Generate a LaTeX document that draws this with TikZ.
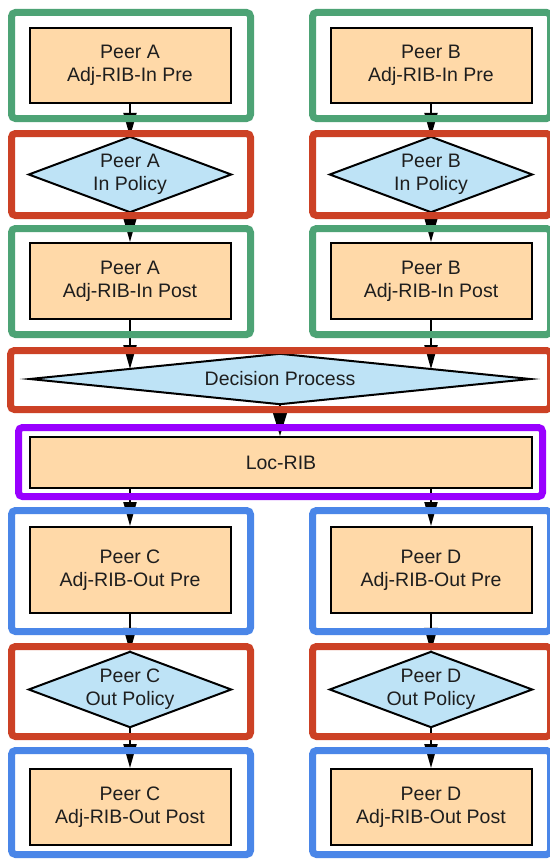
\documentclass[tikz,border=0pt]{standalone}
\usepackage{fontspec}
\setmainfont{Liberation Sans}
\usetikzlibrary{arrows.meta}
\pgfdeclarelayer{bglayer}
\pgfdeclarelayer{fglayer}
\pgfsetlayers{bglayer,main,fglayer}
\definecolor{frgreen}{HTML}{4DA375}
\definecolor{frred}{HTML}{CC4125}
\definecolor{frblue}{HTML}{4A86E8}
\definecolor{frpurple}{HTML}{9900FF}
\definecolor{ribfill}{HTML}{FFD9A8}
\definecolor{polfill}{HTML}{BEE3F6}
\definecolor{txt}{HTML}{1E1E1E}
\tikzset{
  lbl/.style={align=center, text=txt, inner sep=0pt, font=\fontsize{19.5}{23}\selectfont},
  ribbox/.style={lbl, draw=black, line width=2pt, fill=ribfill},
  poltext/.style={lbl},
  polshape/.style={draw=black, line width=2pt, fill=polfill, line join=miter},
  frame/.style={line width=7pt, rounded corners=4pt},
  greenframe/.style={frame, draw=frgreen},
  redframe/.style={frame, draw=frred},
  blueframe/.style={frame, draw=frblue},
  purpleframe/.style={frame, draw=frpurple},
  conn/.style={line width=2pt, draw=black, -{Triangle[length=24pt,width=13pt]}},
  bigconn/.style={line width=2pt, draw=black, -{Triangle[length=30pt,width=18pt]}},
}
\begin{document}
\begin{tikzpicture}[x=1pt,y=-1pt]
\useasboundingbox (0,0) rectangle (549,859);
\clip (0,0) rectangle (549,859);

% boxes
\node[ribbox, minimum width=201pt, minimum height=75pt] (aPre) at (130,65.5) {Peer A\\Adj-RIB-In Pre};
\node[ribbox, minimum width=201pt, minimum height=75pt] (bPre) at (431,65.5) {Peer B\\Adj-RIB-In Pre};
\node[poltext, minimum width=202pt, minimum height=75pt] (aPol) at (130,174.5) {Peer A\\In Policy};
\node[poltext, minimum width=202pt, minimum height=75pt] (bPol) at (431,174.5) {Peer B\\In Policy};
\node[ribbox, minimum width=201pt, minimum height=76pt] (aPost) at (130,281) {Peer A\\Adj-RIB-In Post};
\node[ribbox, minimum width=201pt, minimum height=76pt] (bPost) at (431,281) {Peer B\\Adj-RIB-In Post};
\node[poltext, minimum width=500pt, minimum height=50pt] (dp) at (280,379) {Decision Process};
\node[ribbox, minimum width=502pt, minimum height=51pt] (loc) at (281,462.5) {Loc-RIB};
\node[ribbox, minimum width=201pt, minimum height=86pt] (cPre) at (130,570) {Peer C\\Adj-RIB-Out Pre};
\node[ribbox, minimum width=201pt, minimum height=86pt] (dPre) at (431,570) {Peer D\\Adj-RIB-Out Pre};
\node[poltext, minimum width=202pt, minimum height=75pt] (cPol) at (130,689.5) {Peer C\\Out Policy};
\node[poltext, minimum width=202pt, minimum height=75pt] (dPol) at (431,689.5) {Peer D\\Out Policy};
\node[ribbox, minimum width=201pt, minimum height=76pt] (cPost) at (130,807) {Peer C\\Adj-RIB-Out Post};
\node[ribbox, minimum width=201pt, minimum height=76pt] (dPost) at (431,807) {Peer D\\Adj-RIB-Out Post};

% white page and diamond shapes behind the policy texts
\begin{pgfonlayer}{bglayer}
\fill[white] (0,0) rectangle (549,859);
\foreach \n in {aPol,bPol,dp,cPol,dPol}{
  \draw[polshape] (\n.west) -- (\n.north) -- (\n.east) -- (\n.south) -- cycle;
}
\end{pgfonlayer}

% free ends on the decision diamond's upper edges
\coordinate (dpL) at (130,369);
\coordinate (dpR) at (431,369.1);

% connectors
\draw[conn] (aPre.south) -- (aPol.north);
\draw[conn] (bPre.south) -- (bPol.north);
\draw[conn] (aPol.south) -- (aPost.north);
\draw[conn] (bPol.south) -- (bPost.north);
\draw[conn] (aPost.south) -- (dpL);
\draw[conn] (bPost.south) -- (dpR);
\draw[bigconn] (dp.south) -- (dp.south |- loc.north);
\draw[conn] (loc.south -| cPre.north) -- (cPre.north);
\draw[conn] (loc.south -| dPre.north) -- (dPre.north);
\draw[conn] (cPre.south) -- (cPol.north);
\draw[conn] (dPre.south) -- (dPol.north);
\draw[conn] (cPol.south) -- (cPost.north);
\draw[conn] (dPol.south) -- (dPost.north);

% coloured frames on top
\begin{pgfonlayer}{fglayer}
\draw[greenframe] (11.5,12.5) rectangle (250.5,118.5);
\draw[greenframe] (312.5,12.5) rectangle (550.5,118.5);
\draw[redframe] (11.5,133.5) rectangle (250.5,215.5);
\draw[redframe] (312.5,133.5) rectangle (550.5,215.5);
\draw[greenframe] (11.5,228.5) rectangle (250.5,334.5);
\draw[greenframe] (312.5,228.5) rectangle (550.5,334.5);
\draw[redframe] (10.5,350.5) rectangle (550.5,409.5);
\draw[purpleframe] (18.5,427.5) rectangle (542.5,496.5);
\draw[blueframe] (11.5,510.5) rectangle (250.5,631.5);
\draw[blueframe] (312.5,510.5) rectangle (550.5,631.5);
\draw[redframe] (11.5,646.5) rectangle (250.5,736.5);
\draw[redframe] (312.5,646.5) rectangle (550.5,736.5);
\draw[blueframe] (11.5,750.5) rectangle (250.5,854.5);
\draw[blueframe] (312.5,750.5) rectangle (550.5,854.5);
\end{pgfonlayer}
\end{tikzpicture}
\end{document}
